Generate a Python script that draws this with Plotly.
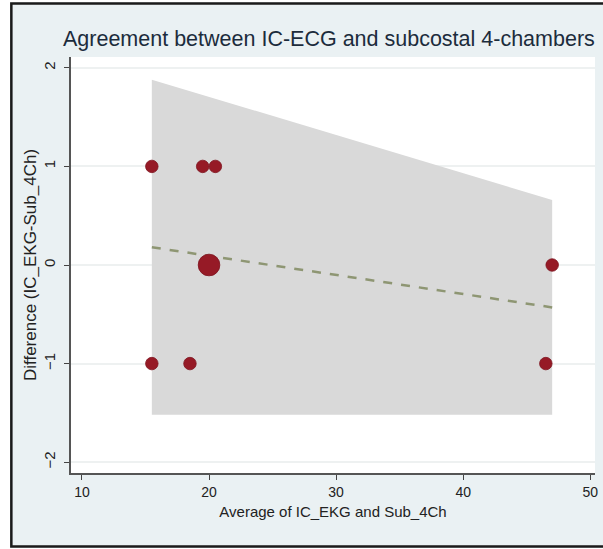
import plotly.graph_objects as go

# Bland-Altman data: average of the two methods vs. their difference
avg_vals = [15.5, 19.5, 20.5, 20.0, 47.0, 15.5, 18.5, 46.5]
diff_vals = [1, 1, 1, 0, 0, -1, -1, -1]
counts = [1, 1, 1, 3, 1, 1, 1, 1]

# Regression-based limits of agreement over the observed range
band_x = [15.5, 47.0]
upper_loa = [1.88, 0.66]
lower_loa = [-1.52, -1.52]
mean_diff = [0.18, -0.43]

x_ticks = [10, 20, 30, 40, 50]
y_ticks = [-2, -1, 0, 1, 2]

fig = go.Figure()

# Shaded limits-of-agreement region
fig.add_trace(go.Scatter(
    x=band_x + band_x[::-1],
    y=upper_loa + lower_loa[::-1],
    fill="toself", fillcolor="#d9d9d9",
    line=dict(width=0), mode="lines", hoverinfo="skip", showlegend=False,
))

# Mean difference (regression) line
fig.add_trace(go.Scatter(
    x=band_x, y=mean_diff, mode="lines",
    line=dict(color="#8e9673", width=2.5, dash="dash"),
    showlegend=False,
))

# Observations, marker size weighted by frequency
fig.add_trace(go.Scatter(
    x=avg_vals, y=diff_vals, mode="markers",
    marker=dict(color="#961a26", size=[12.5 * c ** 0.5 for c in counts],
                opacity=1, line=dict(width=0.8, color="#7e1420")),
    showlegend=False,
))

L, R, T, B = 71, 5, 57, 76
W, H = 603, 549
pw, ph = W - L - R, H - T - B

def px_x(p):
    return (p - L) / pw

def px_y(p):
    return (H - B - p) / ph

shapes = [
    # white strips outside the graph frame
    dict(type="rect", xref="paper", yref="paper", layer="below",
         x0=px_x(-5), x1=px_x(10), y0=px_y(-5), y1=px_y(560),
         fillcolor="white", line=dict(width=0)),
    dict(type="rect", xref="paper", yref="paper", layer="below",
         x0=px_x(-5), x1=px_x(610), y0=px_y(-5), y1=px_y(2),
         fillcolor="white", line=dict(width=0)),
    dict(type="rect", xref="paper", yref="paper", layer="below",
         x0=px_x(-5), x1=px_x(610), y0=px_y(548), y1=px_y(560),
         fillcolor="white", line=dict(width=0)),
    # frame border
    dict(type="rect", xref="paper", yref="paper", layer="above",
         x0=px_x(11), x1=px_x(612), y0=px_y(3.5), y1=px_y(546.5),
         fillcolor="rgba(0,0,0,0)", line=dict(color="#1a1a1a", width=2.5)),
]

fig.update_layout(
    width=W, height=H,
    margin=dict(l=L, r=R, t=T, b=B),
    paper_bgcolor="#eaf1f3",
    plot_bgcolor="white",
    font=dict(family="Liberation Sans, Arial, sans-serif", color="#222222"),
    title=dict(
        text="Agreement between IC-ECG and subcostal 4-chambers",
        xref="container", x=63 / W, xanchor="left",
        yref="container", y=1 - 38 / H, yanchor="middle",
        font=dict(size=21.5, color="#1c2c3c"),
    ),
    shapes=shapes,
    xaxis=dict(
        range=[9.14, 50.37], tickvals=x_ticks, ticks="outside", ticklen=5,
        tickcolor="#444444", showgrid=False, zeroline=False,
        showline=True, linecolor="#555555", linewidth=1.5,
        tickfont=dict(size=14, color="#222222"),
        title=dict(text="Average of IC_EKG and Sub_4Ch",
                   font=dict(size=15, color="#222222"), standoff=8),
    ),
    yaxis=dict(
        range=[-2.11, 2.11], tickvals=y_ticks, ticks="outside", ticklen=5,
        tickcolor="#444444", tickangle=-90, ticklabelstandoff=3,
        showgrid=True, gridcolor="#eef1f1", gridwidth=1.5, zeroline=False,
        showline=True, linecolor="#555555", linewidth=1.5,
        tickfont=dict(size=15, color="#222222"),
        title=dict(text="Difference (IC_EKG-Sub_4Ch)",
                   font=dict(size=17, color="#222222"), standoff=0),
    ),
)

fig.write_html("out.html")
